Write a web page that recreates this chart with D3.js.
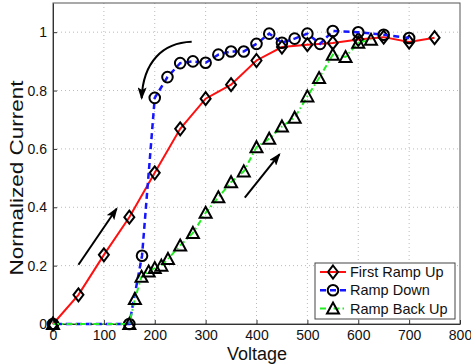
<!DOCTYPE html>
<html>
<head>
<meta charset="utf-8">
<script src="https://cdn.jsdelivr.net/npm/d3@7"></script>
<style>
  body { margin: 0; background: #fff; }
  svg { display: block; font-family: "Liberation Sans", Arial, sans-serif; }
</style>
</head>
<body>
<div id="chart"></div>
<script>
// series data (voltage, normalized current)
var upV   = [0, 50, 100, 150, 200, 250, 300, 350, 400, 450, 500, 550, 600, 650, 700, 750];
var upI   = [0, 0.10, 0.237, 0.366, 0.518, 0.669, 0.772, 0.82, 0.903, 0.949, 0.957, 0.963, 0.975, 0.983, 0.966, 0.981];

var downV = [700, 650, 600, 550, 525, 500, 475, 450, 425, 400, 375, 350, 325, 300, 275, 250, 225, 200, 175, 150, 0];
var downI = [0.98, 0.991, 1.0, 1.004, 0.96, 0.995, 0.978, 0.964, 0.995, 0.96, 0.934, 0.934, 0.923, 0.895, 0.90, 0.894, 0.846, 0.775, 0.234, 0, 0];

var backV = [0, 150, 161, 174, 188, 200, 213, 226, 250, 275, 300, 325, 350, 375, 400, 425, 450, 475, 500, 523, 550, 575, 600, 625];
var backI = [0, 0, 0.086, 0.162, 0.18, 0.192, 0.20, 0.223, 0.269, 0.312, 0.381, 0.434, 0.486, 0.523, 0.606, 0.635, 0.677, 0.707, 0.78, 0.843, 0.923, 0.915, 0.964, 0.974];

var xTicks = [0, 100, 200, 300, 400, 500, 600, 700, 800];
var yTicks = [0, 0.2, 0.4, 0.6, 0.8, 1];
var yTickLabels = ["0", "0.2", "0.4", "0.6", "0.8", "1"];
var seriesNames = ["First Ramp Up", "Ramp Down", "Ramp Back Up"];

// annotation arrows in data units
var arrowCurve = [[272.6, 0.967], [216, 0.964], [177, 0.898], [174.3, 0.774]];
var arrowLeft  = [[50, 0.203], [125, 0.395]];
var arrowRight = [[377, 0.433], [445, 0.581]];

var width = 471, height = 364;
var svg = d3.select("#chart").append("svg")
    .attr("width", width)
    .attr("height", height);

var x = d3.scaleLinear().domain([0, 800]).range([53, 460]);
var y = d3.scaleLinear().domain([0, 1.1]).range([324, 3]);

var defs = svg.append("defs");
defs.append("marker")
    .attr("id", "head")
    .attr("viewBox", "0 0 14 10")
    .attr("refX", 12).attr("refY", 5)
    .attr("markerWidth", 6.5).attr("markerHeight", 4.5)
    .attr("markerUnits", "strokeWidth")
    .attr("orient", "auto")
  .append("path")
    .attr("d", "M0,0L14,5L0,10L3,5z")
    .attr("fill", "#000");

// grid
svg.append("g").selectAll("line")
    .data(xTicks.slice(1, -1))
    .enter().append("line")
    .attr("x1", d => x(d)).attr("x2", d => x(d))
    .attr("y1", y(0)).attr("y2", y(1.1))
    .attr("stroke", "#bbb").attr("stroke-width", 1)
    .attr("stroke-dasharray", "1,3");

svg.append("g").selectAll("line")
    .data(yTicks.slice(1))
    .enter().append("line")
    .attr("x1", x(0)).attr("x2", x(800))
    .attr("y1", d => y(d)).attr("y2", d => y(d))
    .attr("stroke", "#bbb").attr("stroke-width", 1)
    .attr("stroke-dasharray", "1,3");

// box
svg.append("rect")
    .attr("x", x(0)).attr("y", y(1.1))
    .attr("width", x(800) - x(0)).attr("height", y(0) - y(1.1))
    .attr("fill", "none").attr("stroke", "#555").attr("stroke-width", 1);

// axes (ticks point inward)
var xAxis = svg.append("g")
    .attr("transform", "translate(0," + y(0) + ")")
    .call(d3.axisBottom(x).tickValues(xTicks).tickSizeInner(-4).tickSizeOuter(0).tickPadding(6));
var yAxis = svg.append("g")
    .attr("transform", "translate(" + x(0) + ",0)")
    .call(d3.axisLeft(y).tickValues(yTicks).tickSizeInner(-4).tickSizeOuter(0).tickPadding(6)
      .tickFormat((d, k) => yTickLabels[k]));
[xAxis, yAxis].forEach(function(a) {
  a.select(".domain").attr("stroke", "#333");
  a.selectAll(".tick line").attr("stroke", "#333");
  a.selectAll(".tick text").attr("font-size", 14).attr("fill", "#111")
    .attr("font-family", "Liberation Sans, Arial, sans-serif");
});

svg.append("text")
    .attr("x", 257).attr("y", 360)
    .attr("text-anchor", "middle")
    .attr("font-size", 18).attr("fill", "#111")
    .text("Voltage");
svg.append("text")
    .attr("transform", "translate(23,178) rotate(-90)")
    .attr("text-anchor", "middle")
    .attr("font-size", 18).attr("fill", "#111")
    .attr("textLength", 195).attr("lengthAdjust", "spacingAndGlyphs")
    .text("Normalized Current");

// marker shapes
var symDiamond = "M0,-6.5L5,0L0,6.5L-5,0Z";
var symTriangle = "M0,-6L6,5L-6,5Z";
function marker(sel, type) {
  if (type === "circle") {
    sel.append("circle").attr("r", 5.3);
  } else {
    sel.append("path").attr("d", type === "diamond" ? symDiamond : symTriangle);
  }
  sel.selectAll("circle,path")
    .attr("fill", "none").attr("stroke", "#000").attr("stroke-width", 2);
}

var series = [
  { v: upV, i: upI, color: "#ff1010", dash: null, width: 2, mk: "diamond" },
  { v: downV, i: downI, color: "#1515ff", dash: "6,4", width: 2.5, mk: "circle" },
  { v: backV, i: backI, color: "#22ee22", dash: "6,3,1.5,3", width: 2, mk: "triangle" }
];

var line = d3.line().x(d => x(d[0])).y(d => y(d[1]));

series.forEach(function(s) {
  var pts = s.v.map((v, k) => [v, s.i[k]]);
  svg.append("path")
      .datum(pts)
      .attr("d", line)
      .attr("fill", "none")
      .attr("stroke", s.color)
      .attr("stroke-width", s.width)
      .attr("stroke-dasharray", s.dash);
  svg.append("g").selectAll("g")
      .data(pts)
      .enter().append("g")
      .attr("transform", d => "translate(" + x(d[0]) + "," + y(d[1]) + ")")
      .each(function() { marker(d3.select(this), s.mk); });
});

// arrows
var cp = arrowCurve.map(p => x(p[0]) + "," + y(p[1]));
svg.append("path")
    .attr("d", "M" + cp[0] + "C" + cp[1] + " " + cp[2] + " " + cp[3])
    .attr("fill", "none").attr("stroke", "#000").attr("stroke-width", 2)
    .attr("marker-end", "url(#head)");
[arrowLeft, arrowRight].forEach(function(a) {
  svg.append("line")
      .attr("x1", x(a[0][0])).attr("y1", y(a[0][1]))
      .attr("x2", x(a[1][0])).attr("y2", y(a[1][1]))
      .attr("stroke", "#000").attr("stroke-width", 2)
      .attr("marker-end", "url(#head)");
});

// legend
var lg = svg.append("g").attr("transform", "translate(315,263)");
lg.append("rect")
    .attr("width", 140).attr("height", 56)
    .attr("fill", "#fff").attr("stroke", "#444").attr("stroke-width", 1);
series.forEach(function(s, k) {
  var row = lg.append("g").attr("transform", "translate(0," + (9 + k * 18.3) + ")");
  row.append("line")
      .attr("x1", 5).attr("x2", 31)
      .attr("stroke", s.color).attr("stroke-width", s.width)
      .attr("stroke-dasharray", s.dash);
  var m = row.append("g").attr("transform", "translate(18,0)");
  marker(m, s.mk);
  row.append("text")
      .attr("x", 35).attr("y", 5)
      .attr("font-size", 14.5).attr("fill", "#111")
      .text(seriesNames[k]);
});
</script>
</body>
</html>
